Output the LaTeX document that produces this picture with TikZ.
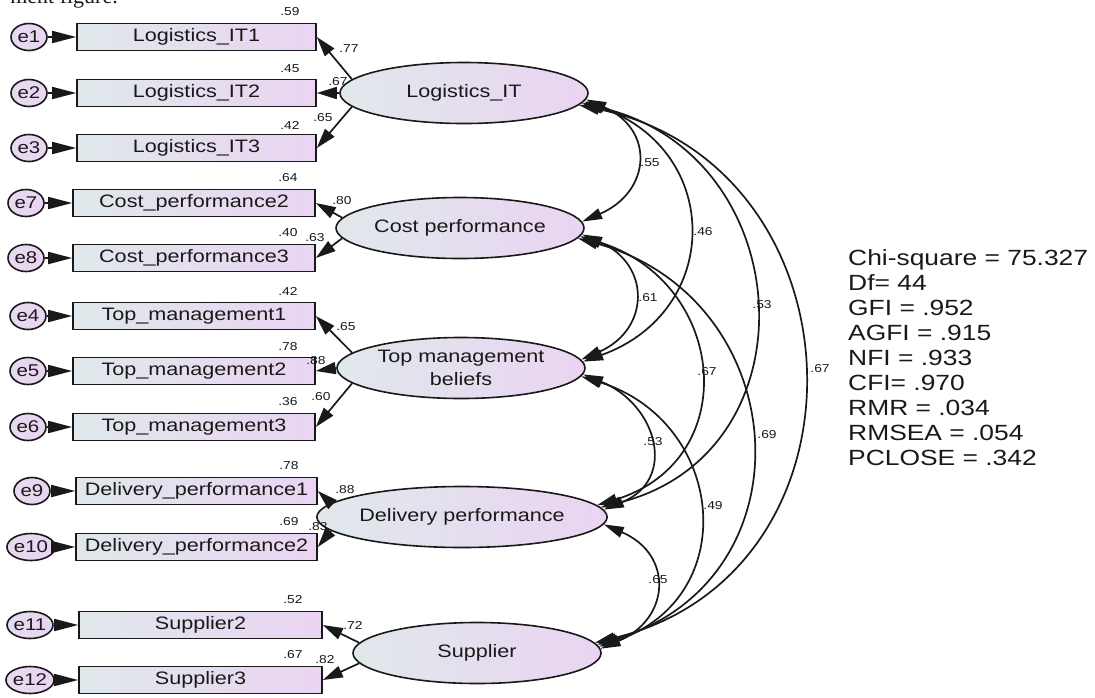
\documentclass[tikz,border=0pt]{standalone}
\usepackage{fontspec}
\setmainfont[FakeStretch=1.2]{Liberation Sans}
\newfontfamily\serifpart{Liberation Serif}
\usetikzlibrary{arrows.meta,calc,shapes.geometric}
\definecolor{cL}{RGB}{224,232,235}
\definecolor{cR}{RGB}{234,212,242}
\definecolor{ink}{RGB}{25,25,25}
\tikzset{
  obs/.style={draw=ink, line width=1.6pt, minimum height=27pt, inner sep=0pt,
    left color=cL, right color=cR, text=ink, font=\fontsize{18}{20}\selectfont},
  lat/.style={ellipse, draw=ink, line width=1.6pt, minimum width=248pt, minimum height=61pt,
    inner sep=0pt, left color=cL, right color=cR, text=ink, align=center,
    font=\fontsize{18}{23}\selectfont},
  err/.style={ellipse, draw=ink, line width=1.6pt, minimum width=36pt, minimum height=27pt,
    inner sep=0pt, left color=cR!70!cL, right color=cR, text=ink, font=\fontsize{17}{19}\selectfont},
  coef/.style={inner sep=0pt, text=ink, font=\fontsize{11.5}{12}\selectfont},
  earr/.style={draw=ink, line width=1.7pt, -{Triangle[length=24pt,width=12pt]}},
  load/.style={draw=ink, line width=1.7pt, -{Triangle[length=20pt,width=12pt]}},
  cov/.style={draw=ink, line width=1.7pt, {Triangle[length=20pt,width=11pt]}-{Triangle[length=20pt,width=11pt]}},
}
\begin{document}
\begin{tikzpicture}[x=1pt,y=-1pt]
\useasboundingbox (0,0) rectangle (1095,697);
\begin{scope}
  \clip (0,0) rectangle (1095,697);
  \node[anchor=base east, inner sep=0pt, text=ink, font=\serifpart\fontsize{22}{24}\selectfont] (frag) at (118,3) {ment figure.};
\end{scope}

% observed boxes
\node[obs, minimum width=239pt] (it1) at (196.5,37)  {Logistics\_IT1};
\node[obs, minimum width=239pt] (it2) at (196.5,93)  {Logistics\_IT2};
\node[obs, minimum width=239pt] (it3) at (196.5,148) {Logistics\_IT3};
\node[obs, minimum width=242pt] (cp2) at (194,203) {Cost\_performance2};
\node[obs, minimum width=242pt] (cp3) at (194,258) {Cost\_performance3};
\node[obs, minimum width=242pt] (tm1) at (194,316) {Top\_management1};
\node[obs, minimum width=242pt] (tm2) at (194,371) {Top\_management2};
\node[obs, minimum width=242pt] (tm3) at (194,427) {Top\_management3};
\node[obs, minimum width=241pt] (dp1) at (196.5,491) {Delivery\_performance1};
\node[obs, minimum width=241pt] (dp2) at (196.5,547) {Delivery\_performance2};
\node[obs, minimum width=243pt] (s2) at (200.5,625) {Supplier2};
\node[obs, minimum width=243pt] (s3) at (200.5,680) {Supplier3};

% error terms
\node[err] (e1) at (29,37) {e1};
\node[err] (e2) at (29,93) {e2};
\node[err] (e3) at (29,148) {e3};
\node[err] (e7) at (26,203) {e7};
\node[err] (e8) at (26,258) {e8};
\node[err] (e4) at (28,316) {e4};
\node[err] (e5) at (28,371) {e5};
\node[err] (e6) at (28,427) {e6};
\node[err] (e9) at (32,491) {e9};
\node[err] (e10) at (31,547) {e10};
\node[err] (e11) at (30,625) {e11};
\node[err] (e12) at (30,680) {e12};

\foreach \e/\b in {e1/it1,e2/it2,e3/it3,e7/cp2,e8/cp3,e4/tm1,e5/tm2,e6/tm3,e9/dp1,e10/dp2,e11/s2,e12/s3}
  \draw[earr] (\e) -- (\b);

% label partly hidden by the ellipse
\node[coef] (l67a) at (338,82) {.67};

% latent variables
\node[lat] (lit) at (464,93) {Logistics\_IT};
\node[lat] (cp) at (460,228) {Cost performance};
\node[lat] (tmb) at (461,368) {Top management\\beliefs};
\node[lat] (dp) at (462,517) {Delivery performance};
\node[lat] (sup) at (477,653) {Supplier};

% loadings
\draw[load] (lit.173) -- (it1.east);
\draw[load] (lit.west) -- (it2.east);
\draw[load] (lit.187) -- (it3.east);
\draw[load] (cp.175) -- (cp2.east);
\draw[load] (cp.185) -- (cp3.east);
\draw[load] (tmb.172) -- (tm1.east);
\draw[load] (tmb.west) -- (tm2.east);
\draw[load] (tmb.188) -- (tm3.east);
\draw[load] (dp.174) -- (dp1.east);
\draw[load] (dp.186) -- (dp2.east);
\draw[load] (sup.175) -- (s2.east);
\draw[load] (sup.185) -- (s3.east);

% covariances
\draw[cov] (lit.-3) .. controls +(69,30) and +(69,-30) .. (cp.3);
\draw[cov] (lit.-4) .. controls +(139,50) and +(139,-50) .. (tmb.3);
\draw[cov] (lit.-5) .. controls +(217,50) and +(217,-55) .. (dp.4);
\draw[cov] (lit.-6) .. controls +(287,60) and +(287,-70) .. (sup.5);
\draw[cov] (cp.-3) .. controls +(69,30) and +(69,-30) .. (tmb.4);
\draw[cov] (cp.-4) .. controls +(147,45) and +(147,-45) .. (dp.5);
\draw[cov] (cp.-5) .. controls +(217,60) and +(217,-65) .. (sup.4);
\draw[cov] (tmb.-3) .. controls +(74,30) and +(74,-30) .. (dp.3);
\draw[cov] (tmb.-4) .. controls +(144,45) and +(144,-50) .. (sup.3);
\draw[cov] (dp.-3) .. controls +(70,30) and +(70,-30) .. (sup.2);

% squared multiple correlations and loadings
\node[coef] (r1) at (290,12) {.59};
\node[coef] (l1) at (349,49) {.77};
\node[coef] (r2) at (290,69) {.45};
\node[coef] (r3) at (290,125) {.42};
\node[coef] (l3) at (323,118) {.65};
\node[coef] (r7) at (288,178) {.64};
\node[coef] (l7) at (342,201) {.80};
\node[coef] (r8) at (288,233) {.40};
\node[coef] (l8) at (315,238) {.63};
\node[coef] (r4) at (288,291) {.42};
\node[coef] (l4) at (346,327) {.65};
\node[coef] (r5) at (288,347) {.78};
\node[coef] (l5) at (316,361) {.88};
\node[coef] (r6) at (288,402) {.36};
\node[coef] (l6) at (321,397) {.60};
\node[coef] (r9) at (289,466) {.78};
\node[coef] (l9) at (345,490) {.88};
\node[coef] (r10) at (289,522) {.69};
\node[coef] (l10) at (318,527) {.83};
\node[coef] (r11) at (293,600) {.52};
\node[coef] (l11) at (353,625) {.72};
\node[coef] (r12) at (293,655) {.67};
\node[coef] (l12) at (325,660) {.82};

% correlations
\node[coef] (c1) at (650,163) {.55};
\node[coef] (c2) at (703,232) {.46};
\node[coef] (c3) at (762,305) {.53};
\node[coef] (c4) at (820,369) {.67};
\node[coef] (c5) at (648,298) {.61};
\node[coef] (c6) at (707,372) {.67};
\node[coef] (c7) at (767,435) {.69};
\node[coef] (c8) at (653,442) {.53};
\node[coef] (c9) at (713,506) {.49};
\node[coef] (c10) at (658,580) {.65};

% fit indices
\node[anchor=north west, inner sep=0pt, align=left, text=ink, font=\fontsize{22}{25}\selectfont] (fit) at (848,249)
  {Chi-square = 75.327\\Df= 44\\GFI = .952\\AGFI = .915\\NFI = .933\\CFI= .970\\RMR = .034\\RMSEA = .054\\PCLOSE = .342};
\end{tikzpicture}
\end{document}
